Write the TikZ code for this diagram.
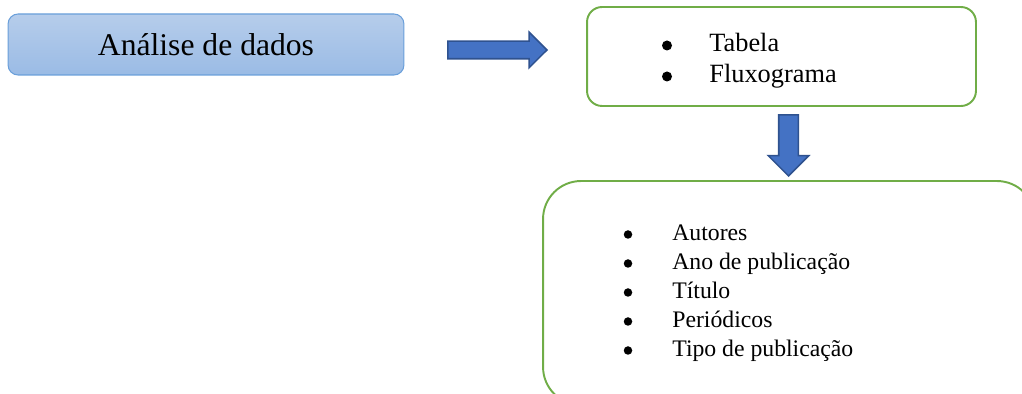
\documentclass[tikz,border=0pt]{standalone}
\usepackage{fontspec}
\setmainfont{Liberation Serif}
\usetikzlibrary{shapes.arrows,positioning}
\definecolor{titletop}{HTML}{B6CDEB}
\definecolor{titlebot}{HTML}{9ABBE5}
\definecolor{titleline}{HTML}{6A9FDA}
\definecolor{arrowfill}{HTML}{4472C4}
\definecolor{arrowline}{HTML}{2F528F}
\definecolor{listgreen}{HTML}{70AD47}

\begin{document}
\begin{tikzpicture}[x=0.02cm,y=-0.02cm,
	titlebox/.style={draw=titleline,line width=0.6pt,rounded corners=0.2cm,
		top color=titletop,bottom color=titlebot,
		minimum width=7.92cm,minimum height=1.22cm,
		font=\fontsize{18}{21}\selectfont},
	listbox/.style={draw=listgreen,line width=1.1pt},
	fatarrow/.style={single arrow,draw=arrowline,fill=arrowfill,line width=0.9pt,
		single arrow tip angle=90},
	listtext/.style={anchor=base west,inner sep=0pt}]
	\useasboundingbox (0,0) rectangle (1022,394);
	\clip (0,0) rectangle (1022,394);
	
	\node[titlebox] (analise) at (206,44.5) {Análise de dados};
	\node[listbox,rounded corners=0.3cm,minimum width=7.78cm,minimum height=1.98cm] (formas) at (781.5,56.5) {};
	\node[listbox,rounded corners=0.76cm,minimum width=9.84cm,minimum height=4.48cm] (itens) at (789,293) {};
	
	% setas
	\node[fatarrow,inner sep=0.16cm,minimum height=1.98cm,single arrow head extend=0.18cm] (seta1) at (493,50) {};
	\node[fatarrow,inner sep=0.18cm,shape border rotate=270,minimum height=1.22cm,single arrow head extend=0.21cm] (seta2) at (788.5,140.5) {};
	
	% listas
	\foreach \txt [count=\i] in {Tabela,Fluxograma}{
		\fill (667,14.5+31*\i) circle[radius=0.1cm];
		\node[listtext,font=\fontsize{15}{17.6}\selectfont] (forma\i) at (709,21+31*\i) {\txt};
	}
	\foreach \txt [count=\i] in {Autores,Ano de publicação,Título,Periódicos,Tipo de publicação}{
		\fill (628,205.5+29*\i) circle[radius=0.085cm];
		\node[listtext,font=\fontsize{13.5}{16.4}\selectfont] (item\i) at (672,212+29*\i) {\txt};
	}
\end{tikzpicture}
\end{document}
